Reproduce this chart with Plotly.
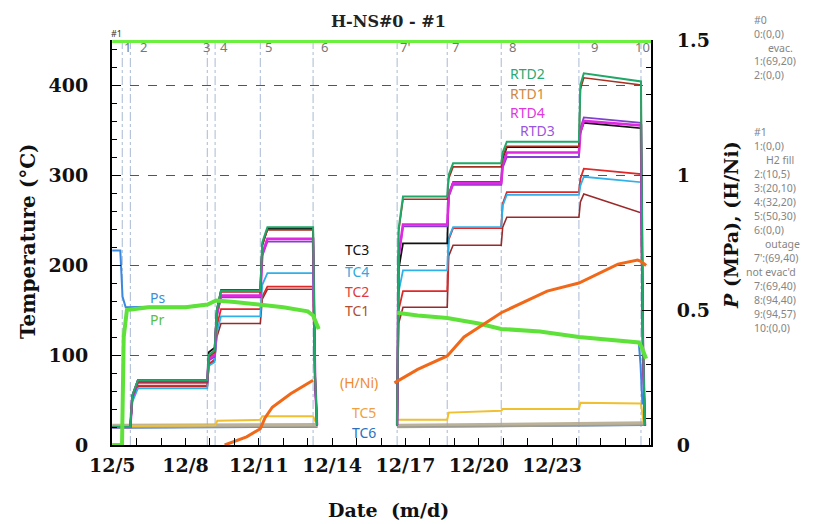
import plotly.graph_objects as go

# ---------------- data ----------------
# time in days of December
t_temp = [5.0, 5.74, 5.82, 6.05, 8.89, 8.95, 9.19, 9.28, 9.45, 11.06, 11.14, 11.35, 13.22, 13.30, 13.38, None,
          16.66, 16.72, 16.90, 18.71, 18.77, 18.95, 20.92, 20.98, 21.15, 24.10, 24.16, 24.30, 26.64, 26.72, 26.80]

RTD2 = [20, 20, 55, 72, 72, 100, 105, 150, 171, 171, 225, 242, 242, 80, 22, None,
        22, 240, 276, 276, 300, 313, 313, 325, 337, 337, 400, 413, 404, 120, 22]
RTD1 = [20, 20, 54, 70, 70, 98, 103, 148, 170, 170, 222, 239, 239, 78, 22, None,
        22, 237, 273, 273, 296, 309, 309, 320, 332, 332, 395, 408, 400, 118, 22]
RTD4 = [20, 20, 53, 71, 71, 96, 100, 145, 166, 166, 212, 229, 229, 76, 22, None,
        22, 210, 245, 245, 278, 291, 291, 312, 325, 325, 348, 360, 355, 110, 22]
RTD3 = [20, 20, 52, 69, 69, 94, 98, 143, 164, 164, 210, 226, 226, 75, 22, None,
        22, 208, 243, 243, 276, 289, 289, 308, 320, 320, 352, 364, 358, 108, 22]
TC3 = [20, 20, 55, 72, 72, 103, 108, 150, 172, 172, 222, 240, 240, 78, 22, None,
       22, 195, 224, 224, 278, 292, 292, 318, 331, 331, 347, 358, 352, 110, 22]
TC4 = [20, 20, 48, 63, 63, 88, 92, 125, 143, 143, 178, 191, 191, 68, 22, None,
       22, 170, 194, 194, 230, 242, 242, 266, 278, 278, 288, 298, 292, 100, 22]
TC2 = [20, 20, 50, 66, 66, 90, 95, 132, 151, 151, 165, 176, 176, 70, 22, None,
       22, 150, 171, 171, 228, 241, 241, 268, 281, 281, 296, 307, 301, 100, 22]
TC1 = [20, 20, 49, 65, 65, 89, 94, 120, 135, 135, 162, 173, 173, 70, 22, None,
       22, 135, 153, 153, 210, 222, 222, 242, 253, 253, 270, 279, 258, 95, 22]

t_tc5 = [5.0, 5.40, 5.45, 9.21, 9.30, 11.06, 11.14, 13.22, 13.38, None,
         16.66, 18.71, 18.77, 20.92, 20.98, 24.10, 24.16, 26.64, 26.75]
TC5 = [0, 0, 21, 22, 27, 28, 32, 32, 22, None, 28, 28, 36, 38, 40, 40, 47, 46, 24]

t_amb = [5.0, 13.40, None, 16.66, 26.85]
TA = [21, 22, None, 21, 24]
TC6 = [19, 20, None, 20, 22]

t_pr = [5.0, 5.40, 5.47, 5.60, 6.5, 8.0, 8.9, 9.25, 10.0, 11.06, 12.0, 13.0, 13.22, 13.45, None,
        16.66, 17.5, 18.71, 20.0, 20.92, 22.5, 24.10, 25.5, 26.55, 26.68, 26.85]
Pr = [0.0, 0.0, 0.40, 0.50, 0.51, 0.51, 0.52, 0.535, 0.53, 0.52, 0.51, 0.495, 0.48, 0.43, None,
      0.49, 0.48, 0.47, 0.45, 0.43, 0.42, 0.40, 0.39, 0.38, 0.36, 0.32]

t_ps = [5.0, 5.33, 5.42, 5.55, 6.5, 8.0, 8.9, 9.25, 10.0, 11.06, 12.0, 13.0, 13.22, 13.45, None,
        16.66, 17.5, 18.71, 20.0, 20.92, 22.5, 24.10, 25.5, 26.55, 26.62, 26.70]
Ps = [0.72, 0.72, 0.55, 0.51, 0.512, 0.512, 0.522, 0.535, 0.53, 0.52, 0.51, 0.495, 0.48, 0.43, None,
      0.49, 0.48, 0.47, 0.45, 0.43, 0.42, 0.40, 0.39, 0.38, 0.30, 0.15]

t_hni = [9.6, 10.5, 11.06, 11.25, 11.55, 12.3, 13.22, None,
         16.55, 17.5, 18.71, 19.4, 20.92, 22.8, 24.10, 25.7, 26.5, 26.64, 26.85]
HNi = [0.0, 0.03, 0.06, 0.10, 0.14, 0.19, 0.24, None,
       0.23, 0.28, 0.33, 0.40, 0.49, 0.57, 0.60, 0.67, 0.685, 0.68, 0.665]

t_top = [5.0, 27.05]
Ptop = [1.5, 1.5]

event_days = [5.41, 5.74, 8.89, 9.21, 11.06, 13.22, 16.66, 18.71, 20.92, 24.10, 26.64]
event_labels = ["1", "2", "3", "4", "5", "6", "7'", "7", "8", "9", "10"]
event_shift = [5, 13, -1, 9, 8, 11, 8, 8, 11, 16, 2]

date_ticks = [5, 8, 11, 14, 17, 20, 23]
date_labels = ["12/5", "12/8", "12/11", "12/14", "12/17", "12/20", "12/23"]
temp_ticks = [0, 100, 200, 300, 400]
p_ticks = [0, 0.5, 1, 1.5]
p_labels = ["0", "0.5", "1", "1.5"]

notes = ["#0", "0:(0,0)", "evac.", "1:(69,20)", "2:(0,0)",
         "#1", "1:(0,0)", "H2 fill", "2:(10,5)", "3:(20,10)", "4:(32,20)", "5:(50,30)", "6:(0,0)",
         "outage", "7':(69,40)", "not evac'd", "7:(69,40)", "8:(94,40)", "9:(94,57)", "10:(0,0)"]
notes_y = [20, 34, 48, 61, 75, 132, 146, 160, 174, 188, 202, 216, 230, 244, 258, 272, 286, 300, 314, 328]
notes_x = [752, 752, 766, 752, 752, 752, 752, 764, 752, 752, 752, 752, 752, 763, 752, 744, 752, 752, 752, 752]

# ---------------- figure ----------------
# page body has an 8px margin: the figure is drawn at (8, 8) in the window
OFF = 8
W, H = 811, 516
L, T = 112 - OFF, 40 - OFF
PW, PH = 539, 405
R, B = W - L - PW, H - T - PH


def px(sx):
    return (sx - OFF - L) / PW


def py(sy):
    return (H - B - (sy - OFF)) / PH


fig = go.Figure()


def tline(x, y, color, width, name, axis="y"):
    fig.add_trace(go.Scatter(x=x, y=y, mode="lines", name=name, yaxis=axis,
                             line=dict(color=color, width=width), connectgaps=False,
                             showlegend=False, hoverinfo="skip"))


tline(t_amb, TC6, "#3068c0", 1.5, "TC6")
tline(t_amb, TA, "rgba(175,165,135,0.85)", 4.5, "Ta")
tline(t_tc5, TC5, "#f0c030", 2, "TC5")
tline(t_temp, TC1, "#9a2a2a", 1.6, "TC1")
tline(t_temp, TC2, "#e02828", 1.8, "TC2")
tline(t_temp, TC4, "#30b0e8", 1.8, "TC4")
tline(t_temp, TC3, "#111111", 1.8, "TC3")
tline(t_temp, RTD3, "#8040d0", 1.8, "RTD3")
tline(t_temp, RTD4, "#e028e0", 2.6, "RTD4")
tline(t_temp, RTD1, "#a83222", 1.6, "RTD1")
tline(t_temp, RTD2, "#1fa868", 2.0, "RTD2")
tline(t_ps, Ps, "#3a88e0", 2, "Ps", "y2")
tline(t_pr, Pr, "#5ee23a", 4, "Pr", "y2")
tline(t_hni, HNi, "#f06818", 3, "H/Ni", "y2")
tline(t_top, Ptop, "#6cf040", 6, "Ptop", "y2")

for d in event_days:
    fig.add_shape(type="line", xref="x", yref="paper", x0=d, x1=d, y0=0, y1=1,
                  line=dict(color="rgba(110,140,185,0.6)", width=1, dash="dashdot"), layer="below")

ann = []
for d, lab, s in zip(event_days, event_labels, event_shift):
    ann.append(dict(x=d, y=py(47), xref="x", yref="paper", text=lab, showarrow=False,
                    xshift=s, xanchor="center", yanchor="middle",
                    font=dict(family="Noto Sans", size=13, color="#777777")))
ann.append(dict(x=px(116), y=py(33), xref="paper", yref="paper", text="#1", showarrow=False,
                xanchor="center", yanchor="middle",
                font=dict(family="Noto Sans", size=9, color="#333333")))

labels = [("RTD2", 21.20, 413, "#2aa870"), ("RTD1", 21.20, 391, "#d08840"),
          ("RTD4", 21.20, 370, "#e038e0"), ("RTD3", 21.61, 350, "#9a55e0"),
          ("TC3", 14.45, 217, "#111111"), ("TC4", 14.45, 193, "#30a8e0"),
          ("TC2", 14.45, 171, "#e03a3a"), ("TC1", 14.45, 150, "#b05030"),
          ("Ps", 6.47, 164, "#3a8fd8"), ("Pr", 6.47, 139, "#58c040"),
          ("(H/Ni)", 14.25, 70, "#f08a30"), ("TC5", 14.74, 36, "#f0a040"),
          ("TC6", 14.74, 14, "#2a70c0")]
for txt, x, y, c in labels:
    ann.append(dict(x=x, y=y, xref="x", yref="y", text=txt, showarrow=False,
                    xanchor="left", yanchor="middle",
                    font=dict(family="Noto Sans", size=14, color=c)))

for txt, x, y in zip(notes, notes_x, notes_y):
    ann.append(dict(x=px(x), y=py(y), xref="paper", yref="paper", text=txt, showarrow=False,
                    xanchor="left", yanchor="middle",
                    font=dict(family="Noto Sans", size=10.5, color="#858585")))

serif = "DejaVu Serif"
ann.append(dict(x=px(388), y=py(22), xref="paper", yref="paper", text="<b>H-NS#0 - #1</b>",
                showarrow=False, xanchor="center", yanchor="middle",
                font=dict(family=serif, size=16, color="#222")))
ann.append(dict(x=px(28), y=py(241), xref="paper", yref="paper", text="<b>Temperature (°C)</b>",
                showarrow=False, textangle=-90, xanchor="center", yanchor="middle",
                font=dict(family=serif, size=20, color="#111")))
ann.append(dict(x=px(731), y=py(225), xref="paper", yref="paper", text="<b><i>P</i> (MPa), (H/Ni)</b>",
                showarrow=False, textangle=-90, xanchor="center", yanchor="middle",
                font=dict(family=serif, size=19, color="#111")))
ann.append(dict(x=px(388), y=py(510), xref="paper", yref="paper", text="<b>Date  (m/d)</b>",
                showarrow=False, xanchor="center", yanchor="middle",
                font=dict(family=serif, size=19, color="#111")))

tickfont = dict(family=serif, size=19, color="#111", weight="bold")

fig.update_layout(
    width=W, height=H, margin=dict(l=L, r=R, t=T, b=B),
    paper_bgcolor="white", plot_bgcolor="white", showlegend=False,
    annotations=ann,
    xaxis=dict(range=[4.99, 27.05], tickmode="array", tickvals=date_ticks, ticktext=date_labels,
               tickfont=tickfont, showgrid=False, zeroline=False,
               showline=True, linecolor="black", linewidth=2, ticks="inside", ticklen=7,
               tickcolor="black", ticklabelstandoff=2,
               minor=dict(tickmode="linear", tick0=5, dtick=1, ticks="inside", ticklen=7,
                          tickcolor="black", showgrid=False)),
    yaxis=dict(range=[0, 450], tickmode="array", tickvals=temp_ticks, tickfont=tickfont,
               showgrid=True, gridcolor="#555555", griddash="dash", gridwidth=1, zeroline=False,
               showline=True, linecolor="black", linewidth=2, ticks="inside", ticklen=9,
               tickcolor="black", ticklabelstandoff=18,
               minor=dict(tickmode="linear", tick0=0, dtick=20, ticks="inside", ticklen=5,
                          tickcolor="black", showgrid=False)),
    yaxis2=dict(range=[0, 1.5], overlaying="y", side="right", tickmode="array", tickvals=p_ticks,
                ticktext=p_labels, tickfont=tickfont, showgrid=False, zeroline=False,
                showline=True, linecolor="black", linewidth=2, ticks="inside", ticklen=9,
                tickcolor="black", ticklabelstandoff=20,
                minor=dict(tickmode="linear", tick0=0, dtick=0.1, ticks="inside", ticklen=5,
                           tickcolor="black", showgrid=False)),
)

fig.write_html("out.html")
